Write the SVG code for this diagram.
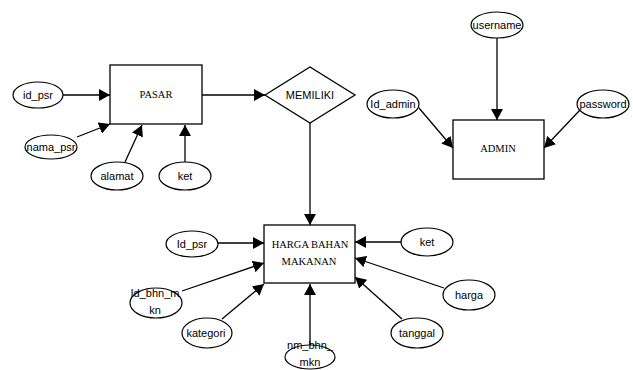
<svg xmlns="http://www.w3.org/2000/svg" width="633" height="370" viewBox="0 0 633 370">
<style>
.ent{fill:#fff;stroke:#000;stroke-width:1.3}
.att{fill:#fff;stroke:#000;stroke-width:1.2}
.lnk{fill:none;stroke:#000;stroke-width:1.3;marker-end:url(#ah)}
.at{font-family:"Liberation Sans",Arial,sans-serif;font-size:11px;text-anchor:middle;fill:#000}
.et{font-family:"Liberation Serif","Times New Roman",serif;font-size:10.5px;text-anchor:middle;fill:#000}
</style>
<defs>
<marker id="ah" markerUnits="userSpaceOnUse" markerWidth="12" markerHeight="12" refX="11" refY="6" orient="auto">
<path d="M0,0 L11,6 L0,12 Z" fill="#000"/>
</marker>
</defs>
<rect width="633" height="370" fill="#fff"/>
<g id="connectors">
<line class="lnk" x1="63" y1="95" x2="110" y2="95"/>
<line class="lnk" x1="77" y1="137" x2="110" y2="124"/>
<line class="lnk" x1="125" y1="162" x2="142" y2="125"/>
<line class="lnk" x1="185" y1="162" x2="185" y2="125"/>
<line class="lnk" x1="202" y1="95" x2="265" y2="95"/>
<line class="lnk" x1="310" y1="123" x2="310" y2="225"/>
<line class="lnk" x1="497" y1="38" x2="497" y2="120"/>
<line class="lnk" x1="419" y1="108" x2="453" y2="148"/>
<line class="lnk" x1="580" y1="110" x2="544" y2="148"/>
<line class="lnk" x1="218" y1="243" x2="264" y2="243"/>
<line class="lnk" x1="182" y1="291" x2="264" y2="263"/>
<line class="lnk" x1="222" y1="319" x2="264" y2="284"/>
<line class="lnk" x1="310" y1="345" x2="310" y2="284"/>
<line class="lnk" x1="402" y1="242" x2="355" y2="242"/>
<line class="lnk" x1="444" y1="288" x2="355" y2="258"/>
<line class="lnk" x1="402" y1="319" x2="355" y2="277"/>
</g>
<g id="pasar">
<rect class="ent" x="110" y="65" width="92" height="59"/>
<text class="et" x="156" y="98">PASAR</text>
</g>
<g id="memiliki">
<polygon class="ent" points="265,95 310,67 355,95 310,123"/>
<text class="at" x="310" y="99">MEMILIKI</text>
</g>
<g id="admin">
<rect class="ent" x="453" y="120" width="91" height="59"/>
<text class="et" x="498" y="152">ADMIN</text>
</g>
<g id="harga-bahan-makanan">
<rect class="ent" x="264" y="225" width="91" height="58"/>
<text class="et" x="310" y="248">HARGA BAHAN</text>
<text class="et" x="309" y="265">MAKANAN</text>
</g>
<g id="id_psr">
<ellipse class="att" cx="38" cy="95" rx="25" ry="13"/>
<text class="at" x="38" y="99">id_psr</text>
</g>
<g id="nama_psr">
<ellipse class="att" cx="51" cy="147" rx="26" ry="12"/>
<text class="at" x="51" y="151">nama_psr</text>
</g>
<g id="alamat">
<ellipse class="att" cx="117" cy="176" rx="26" ry="14"/>
<text class="at" x="117" y="180">alamat</text>
</g>
<g id="ket_pasar">
<ellipse class="att" cx="185" cy="176" rx="26" ry="14"/>
<text class="at" x="185" y="180">ket</text>
</g>
<g id="username">
<ellipse class="att" cx="497" cy="25" rx="26" ry="13"/>
<text class="at" x="497" y="29">username</text>
</g>
<g id="id_admin">
<ellipse class="att" cx="393" cy="104" rx="26" ry="14"/>
<text class="at" x="393" y="108">Id_admin</text>
</g>
<g id="password">
<ellipse class="att" cx="603" cy="104" rx="26" ry="14"/>
<text class="at" x="603" y="108">password</text>
</g>
<g id="id_psr_hbm">
<ellipse class="att" cx="192" cy="244" rx="26" ry="13"/>
<text class="at" x="192" y="248">Id_psr</text>
</g>
<g id="id_bhn_mkn">
<ellipse class="att" cx="156" cy="303" rx="26" ry="15"/>
<text class="at" x="155" y="297">Id_bhn_m</text>
<text class="at" x="155" y="314">kn</text>
</g>
<g id="kategori">
<ellipse class="att" cx="207" cy="333" rx="25" ry="15"/>
<text class="at" x="206" y="337">kategori</text>
</g>
<g id="nm_bhn_mkn">
<ellipse class="att" cx="310" cy="357" rx="25" ry="12"/>
<text class="at" x="310" y="349">nm_bhn_</text>
<text class="at" x="310" y="366">mkn</text>
</g>
<g id="ket_hbm">
<ellipse class="att" cx="427" cy="242" rx="26" ry="14"/>
<text class="at" x="427" y="246">ket</text>
</g>
<g id="harga">
<ellipse class="att" cx="469" cy="295" rx="26" ry="15"/>
<text class="at" x="469" y="299">harga</text>
</g>
<g id="tanggal">
<ellipse class="att" cx="417" cy="333" rx="26" ry="15"/>
<text class="at" x="417" y="337">tanggal</text>
</g>
</svg>
